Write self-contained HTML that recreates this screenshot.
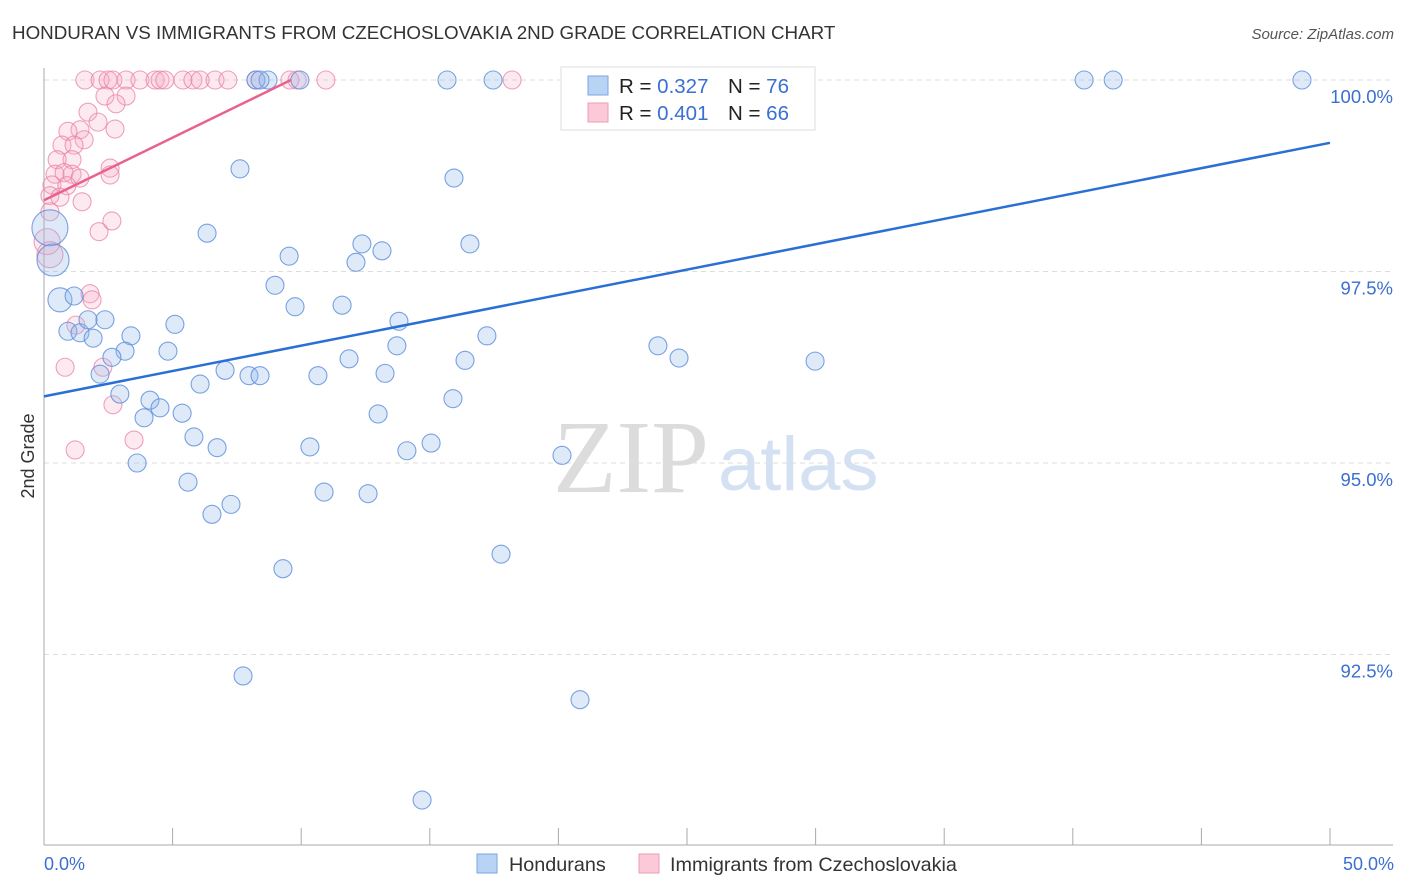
<!DOCTYPE html>
<html><head><meta charset="utf-8"><style>
body{margin:0;background:#fff;font-family:"Liberation Sans",sans-serif;}
svg{display:block}
</style></head><body>
<svg id="chart" width="1406" height="892" xmlns="http://www.w3.org/2000/svg">
<text x="12" y="39" font-size="18.8" fill="#333">HONDURAN VS IMMIGRANTS FROM CZECHOSLOVAKIA 2ND GRADE CORRELATION CHART</text>
<text x="1394" y="39" font-size="15" fill="#555" text-anchor="end" font-style="italic">Source: ZipAtlas.com</text>
<text x="553" y="492" font-size="104" fill="#dcdcdc" font-family="Liberation Serif,serif">ZIP</text>
<text x="718" y="490" font-size="76" fill="#d3e1f3">atlas</text>
<g id="grid"></g>
<g id="axes"></g>
<g id="pts"></g>
<g id="lines"></g>
<text transform="translate(34,456) rotate(-90)" font-size="18" fill="#333" text-anchor="middle">2nd Grade</text>
<text x="44" y="870" font-size="18" fill="#3b6fd1">0.0%</text>
<text x="1394" y="870" font-size="18" fill="#3b6fd1" text-anchor="end">50.0%</text>
<g>
<rect x="561" y="67" width="254" height="63" fill="#fff" stroke="#ddd"/>
<rect x="588" y="76" width="20" height="19" fill="#b9d3f5" stroke="#7aa6e3"/>
<rect x="588" y="103" width="20" height="19" fill="#fcc9d8" stroke="#ef9bb6"/>
<text x="619" y="93" font-size="20.5" fill="#222">R = <tspan fill="#3b6fd1">0.327</tspan></text>
<text x="728" y="93" font-size="20.5" fill="#222">N = <tspan fill="#3b6fd1">76</tspan></text>
<text x="619" y="120" font-size="20.5" fill="#222">R = <tspan fill="#3b6fd1">0.401</tspan></text>
<text x="728" y="120" font-size="20.5" fill="#222">N = <tspan fill="#3b6fd1">66</tspan></text>
</g>
<g>
<rect x="477" y="854" width="20" height="19" fill="#b9d3f5" stroke="#7aa6e3"/>
<text x="509" y="871" font-size="19.8" fill="#333">Hondurans</text>
<rect x="639" y="854" width="20" height="19" fill="#fcc9d8" stroke="#ef9bb6"/>
<text x="670" y="871" font-size="19.8" fill="#333">Immigrants from Czechoslovakia</text>
</g>
</svg>
<script>
const yTicks=[100,97.5,95,92.5];
const yTickLabels=["100.0%","97.5%","95.0%","92.5%"];
const xTicks=[0,5,10,15,20,25,30,35,40,45,50];
const blueX=[0.23,0.35,0.62,1.17,0.93,1.40,1.71,1.91,2.37,3.38,3.15,2.64,2.18,2.95,4.12,4.51,3.89,5.37,3.62,4.82,5.09,6.07,5.83,6.73,5.60,6.53,7.27,7.04,7.97,8.40,7.62,6.34,9.53,8.98,9.76,11.59,10.65,11.86,10.34,10.89,12.60,9.29,7.74,12.36,12.13,13.14,13.80,13.72,13.26,12.99,14.11,15.05,15.94,16.56,16.37,15.90,17.22,17.77,20.14,20.84,14.70,23.87,24.69,29.98,8.24,8.71,9.95,15.67,17.46,25.12,28.23,40.44,41.57,48.91,8.40];
const blueY=[98.07,97.65,97.13,97.18,96.72,96.70,96.87,96.63,96.87,96.66,96.46,96.38,96.16,95.90,95.82,95.72,95.59,95.65,95.00,96.46,96.81,96.03,95.34,95.20,94.75,94.33,94.46,96.21,96.14,96.14,98.84,98.00,97.70,97.32,97.04,97.06,96.14,96.36,95.21,94.62,94.60,93.62,92.22,97.86,97.62,97.77,96.85,96.53,96.17,95.64,95.16,95.26,98.72,97.86,96.34,95.84,96.66,93.81,95.10,91.91,90.60,96.53,96.37,96.33,100,100,100,100,100,100,100,100,100,100,100];
const blueR=[18,16,12];
const pinkX=[1.59,2.18,2.49,2.68,3.19,3.73,4.32,4.51,4.70,5.40,5.79,6.07,6.65,7.15,8.24,9.56,9.84,10.96,18.20,2.37,3.19,1.71,2.80,2.10,1.40,0.93,2.76,1.56,0.70,1.17,1.09,0.51,0.43,0.78,1.09,1.40,2.57,2.57,0.31,0.89,0.23,0.62,1.48,0.23,2.14,2.64,0.12,0.23,1.79,1.87,1.24,0.82,2.29,2.68,3.50,1.21];
const pinkY=[100,100,100,100,100,100,100,100,100,100,100,100,100,100,100,100,100,100,100,99.79,99.79,99.58,99.69,99.45,99.35,99.33,99.36,99.22,99.15,99.15,98.96,98.96,98.77,98.79,98.77,98.72,98.85,98.76,98.63,98.62,98.49,98.47,98.41,98.28,98.02,98.16,97.89,97.72,97.21,97.13,96.80,96.25,96.25,95.76,95.30,95.17];
const blueTrend=[[0,95.87],[50,99.18]];
const pinkTrend=[[0,98.43],[9.6,100]];
const X=v=>44+v*25.72, Y=v=>80+(100-v)*76.6;
const NS="http://www.w3.org/2000/svg";
function mk(tag,parent,attrs){const e=document.createElementNS(NS,tag);for(const k in attrs)e.setAttribute(k,attrs[k]);parent.appendChild(e);return e;}
const grid=document.getElementById('grid'),axes=document.getElementById('axes'),pts=document.getElementById('pts'),lines=document.getElementById('lines');
yTicks.forEach((t,i)=>{
 const l=mk('line',grid,{x1:44,x2:1393,y1:Y(t),y2:Y(t),stroke:'#ddd','stroke-dasharray':'5,4'});
 
 
 const tx=mk('text',grid,{x:1393,y:Y(t)+23,'font-size':18.5,fill:'#3b6fd1','text-anchor':'end'});
 tx.textContent=yTickLabels[i];
 
 
});
const ya=mk('line',axes,{x1:44,x2:44,y1:68,y2:845,stroke:'#aaa'});


const xa=mk('line',axes,{x1:44,x2:1393,y1:845,y2:845,stroke:'#aaa'});


xTicks.forEach(t=>{
 const l=mk('line',axes,{x1:X(t),x2:X(t),y1:828,y2:845,stroke:'#aaa'});
 
 
});
pinkX.forEach((x,i)=>{
 const c=mk('circle',pts,{cx:X(x),cy:Y(pinkY[i]),r:(i>=46&&i<=47)?13:9,fill:'rgba(246,170,195,0.25)',stroke:'rgba(234,130,165,0.75)','stroke-width':1.1});
 
 
});
blueX.forEach((x,i)=>{
 const c=mk('circle',pts,{cx:X(x),cy:Y(blueY[i]),r:blueR[i]||9,fill:'rgba(150,185,235,0.3)',stroke:'rgba(90,140,220,0.8)','stroke-width':1.1});
 
 
});
const bl=mk('line',lines,{x1:X(blueTrend[0][0]),y1:Y(blueTrend[0][1]),x2:X(blueTrend[1][0]),y2:Y(blueTrend[1][1]),stroke:'#2a6fd6','stroke-width':2.5});


const pl=mk('line',lines,{x1:X(pinkTrend[0][0]),y1:Y(pinkTrend[0][1]),x2:X(pinkTrend[1][0]),y2:Y(pinkTrend[1][1]),stroke:'#e8628c','stroke-width':2.5});


</script>
</body></html>
